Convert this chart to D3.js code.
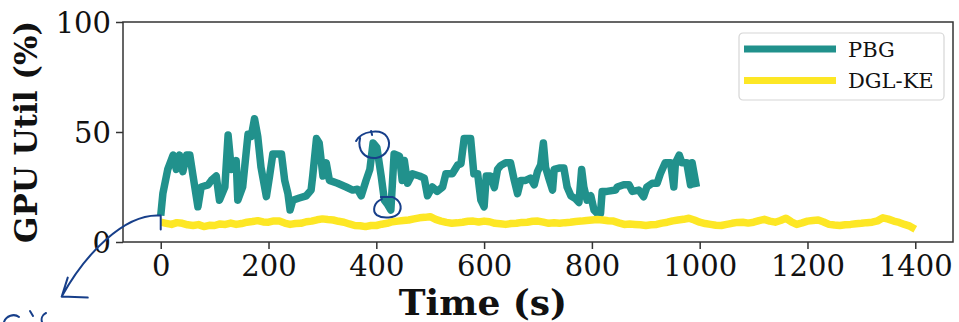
<!DOCTYPE html>
<html>
<head>
<meta charset="utf-8">
<script src="https://cdn.jsdelivr.net/npm/d3@7/dist/d3.min.js"></script>
<style>
  html, body { margin: 0; padding: 0; background: #fff; }
  svg { display: block; }
</style>
</head>
<body>
<div id="chart"></div>
<script>
// PBG GPU utilisation: [time (s), util (%)]
const pbgTime = [0, 4, 13, 23, 29, 35, 41, 48, 54, 60, 69, 75, 88, 94, 103, 109, 119, 125, 131, 140,
  143, 152, 162, 168, 174, 180, 186, 196, 202, 208, 224, 230, 236, 240, 245, 257, 270, 279, 282, 289,
  294, 301, 307, 313, 328, 344, 356, 365, 372, 381, 388, 394, 401, 409, 415, 421, 427, 433, 443, 448,
  452, 458, 467, 480, 489, 495, 504, 513, 523, 529, 541, 551, 557, 563, 575, 581, 588, 594, 600, 604,
  612, 619, 625, 631, 640, 649, 656, 662, 668, 677, 686, 693, 699, 705, 710, 714, 720, 727, 730, 739,
  748, 754, 761, 770, 776, 781, 785, 791, 798, 804, 810, 816, 819, 828, 844, 847, 859, 869, 875, 887,
  896, 902, 912, 921, 927, 936, 946, 952, 955, 962, 967, 976, 983, 986, 994];
const pbgUtil = [12, 22, 33, 39.5, 33, 39.5, 32, 39.5, 39.5, 30, 16, 25, 26, 28, 30, 19, 25, 48.6, 33, 37,
  19, 25, 49, 48, 56, 48, 34, 20.6, 30, 40, 40, 28, 22, 14.5, 19, 20, 21, 23.6, 30, 47,
  45, 30, 36, 28, 26.7, 25, 23.6, 24, 21, 28, 33, 45, 43, 30, 19, 17, 14.5, 40, 39, 28,
  37, 26.7, 31, 30, 29, 21, 25, 23, 25, 31, 31, 35, 35.6, 47, 47, 31, 31, 19, 16, 30,
  30, 24.7, 33, 34.8, 36, 36, 28, 22, 28, 28, 29, 26, 32, 35, 45, 34, 29, 23.6, 33, 33.6,
  33.6, 25, 21, 19.6, 18, 33, 25, 19, 21, 14.5, 13, 13, 23, 23, 23.6, 25, 26, 26, 23, 23.6,
  20.6, 25, 26.7, 26.7, 31, 36, 36, 25, 36, 39.5, 36, 36, 26, 36, 25];

// DGL-KE GPU utilisation
const dglTime = [0, 10, 20, 30, 40, 50, 60, 70, 80, 90, 100, 110, 120, 130, 140, 150, 160, 170, 180, 190,
  200, 210, 220, 230, 240, 250, 260, 270, 280, 290, 300, 310, 320, 330, 340, 350, 360, 370, 380, 390,
  400, 410, 420, 430, 440, 450, 460, 470, 480, 490, 500, 510, 520, 530, 540, 550, 560, 570, 580, 590,
  600, 610, 620, 630, 640, 650, 660, 670, 680, 690, 700, 710, 720, 730, 740, 750, 760, 770, 780, 790,
  800, 810, 820, 830, 840, 850, 860, 870, 880, 890, 900, 910, 920, 930, 940, 950, 960, 970, 980, 990,
  1000, 1010, 1020, 1030, 1040, 1050, 1060, 1070, 1080, 1090, 1100, 1110, 1120, 1130, 1140, 1150, 1160, 1170, 1180, 1190,
  1200, 1210, 1220, 1230, 1240, 1250, 1260, 1270, 1280, 1290, 1300, 1310, 1320, 1330, 1340, 1350, 1360, 1370, 1380, 1390, 1400];
const dglUtil = [9, 8.5, 8, 8.8, 8.5, 7.8, 7.5, 7.9, 7, 7.6, 7.5, 8.2, 8, 8.6, 8, 8.4, 9, 9.3, 9.7, 9.1,
  9, 9.6, 9.5, 8.6, 8, 8.4, 8.5, 9.2, 9.5, 10.1, 10.5, 10.2, 10, 9.4, 9, 8.2, 7.5, 7.4, 7, 7.5,
  7.5, 8.1, 8.5, 9.2, 9.5, 9.8, 10, 10.5, 11, 11.2, 11.5, 10.3, 9.5, 8.9, 8.5, 8.7, 9, 9.4, 9.5, 9.1,
  9.5, 9.2, 8.5, 8.3, 8, 8.4, 8.5, 8.9, 9, 9.4, 9.5, 9, 8.5, 8.7, 8.5, 8.8, 9, 9.3, 9.5, 9.8,
  10, 10.2, 10, 9.7, 9.5, 8.7, 8, 8.2, 8, 7.8, 7.5, 7.8, 8, 8.6, 9, 9.6, 10, 10.3, 10.8, 10,
  9, 8.4, 8, 7.6, 7.5, 8, 8.5, 8.9, 9, 8.6, 9, 9.7, 10.3, 9.5, 9, 9.8, 10.8, 9.2, 8, 8.7,
  9.5, 9.8, 10, 9.1, 8, 7.7, 7.5, 7.8, 8, 8.3, 8.5, 8.8, 9, 9.6, 11, 10.4, 9.5, 8.9, 8, 7.2, 5.8];

const xTicks = [0, 200, 400, 600, 800, 1000, 1200, 1400];
const yTicks = [0, 50, 100];
const seriesNames = ['PBG', 'DGL-KE'];
const seriesColors = ['#21918c', '#fde725'];

const width = 959, height = 322;
const margin = { top: 22, right: 6, bottom: 80, left: 123 };
const innerWidth = width - margin.left - margin.right;
const innerHeight = height - margin.top - margin.bottom;
const serif = "'DejaVu Serif', serif";

const svg = d3.select('#chart')
  .append('svg')
  .attr('width', width)
  .attr('height', height);

const g = svg.append('g')
  .attr('transform', `translate(${margin.left},${margin.top})`);

const x = d3.scaleLinear().domain([-70, 1470]).range([0, innerWidth]);
const y = d3.scaleLinear().domain([0, 100]).range([innerHeight, 0]);

g.append('clipPath').attr('id', 'clip')
  .append('rect').attr('width', innerWidth).attr('height', innerHeight);

// lines
const line = d3.line().x(d => x(d[0])).y(d => y(d[1]));
const series = [
  d3.zip(pbgTime, pbgUtil),
  d3.zip(dglTime, dglUtil)
];
series.forEach((pts, i) => {
  g.append('path')
    .datum(pts)
    .attr('clip-path', 'url(#clip)')
    .attr('fill', 'none')
    .attr('stroke', seriesColors[i])
    .attr('stroke-width', 7.5)
    .attr('stroke-linejoin', 'round')
    .attr('d', line);
});

// axes
const xAxis = g.append('g')
  .attr('transform', `translate(0,${innerHeight})`)
  .call(d3.axisBottom(x).tickValues(xTicks).tickFormat(d3.format('d')).tickSize(7).tickPadding(6));
const yAxis = g.append('g')
  .call(d3.axisLeft(y).tickValues(yTicks).tickFormat(d3.format('d')).tickSize(7).tickPadding(5));

[xAxis, yAxis].forEach(a => {
  a.select('.domain').remove();
  a.selectAll('line').attr('stroke', '#333').attr('stroke-width', 1.5);
  a.selectAll('text')
    .attr('fill', '#111')
    .style('font-family', serif)
    .style('font-size', '29px');
});
yAxis.selectAll('text').attr('dy', '0.36em');

// frame
g.append('rect')
  .attr('width', innerWidth)
  .attr('height', innerHeight)
  .attr('fill', 'none')
  .attr('stroke', '#333')
  .attr('stroke-width', 1.5);

// axis labels
svg.append('text')
  .attr('x', 483)
  .attr('y', 315)
  .attr('text-anchor', 'middle')
  .style('font-family', serif)
  .style('font-weight', 'bold')
  .style('font-size', '36px')
  .attr('fill', '#111')
  .text('Time (s)');

svg.append('text')
  .attr('transform', `translate(37,${margin.top + innerHeight / 2}) rotate(-90)`)
  .attr('text-anchor', 'middle')
  .style('font-family', serif)
  .style('font-weight', 'bold')
  .style('font-size', '31px')
  .attr('fill', '#111')
  .text('GPU Util (%)');

// legend
const legend = svg.append('g').attr('transform', 'translate(739,33)');
legend.append('rect')
  .attr('width', 205).attr('height', 67).attr('rx', 4)
  .attr('fill', '#fff').attr('stroke', '#d6d6d6').attr('stroke-width', 1.2);
seriesNames.forEach((name, i) => {
  const ly = 16 + i * 31.5;
  legend.append('line')
    .attr('x1', 5).attr('x2', 97).attr('y1', ly).attr('y2', ly)
    .attr('stroke', seriesColors[i]).attr('stroke-width', 7);
  legend.append('text')
    .attr('x', 109).attr('y', ly).attr('dy', '0.36em')
    .style('font-family', serif).style('font-size', '21px')
    .attr('fill', '#111')
    .text(name);
});

// hand-drawn ink marks, placed relative to the points they mark
const ink = svg.append('g')
  .attr('fill', 'none')
  .attr('stroke', '#173f8a')
  .attr('stroke-width', 2)
  .attr('stroke-linecap', 'round')
  .attr('stroke-linejoin', 'round');

const at = (t, v) => [margin.left + x(t), margin.top + y(v)];

// loop round the peak near 394 s
const [ax, ay] = at(394, 45);
ink.append('path')
  .attr('transform', `translate(${ax},${ay})`)
  .attr('d', 'M-17,-2 C-12,-12 8,-15 14,-6 C19,2 14,13 3,15 C-8,16 -16,8 -13,-5 M-2,-12 l1,4');

// small loop round the dip near 427 s
const [bx, by] = at(427, 14.5);
ink.append('path')
  .attr('transform', `translate(${bx},${by})`)
  .attr('d', 'M-10,-13 L2,-13 C9,-10 12,-3 8,3 C4,8 -8,9 -14,5 C-19,1 -17,-8 -9,-11');

// arrow from the start of the run
const [cx, cy] = at(0, 12);
ink.append('path')
  .attr('transform', `translate(${cx},${cy})`)
  .attr('d', 'M0,14 L0,0 C-36,-3 -76,39 -99,81 M-99,81 L-93,62 M-99,81 L-73,82');

// scribble cut off at the bottom-left corner
ink.append('path')
  .attr('d', 'M4,322 C6,316 14,313 19,317 M30,311 L33,316 M46,313 C42,315 41,319 42,322');
</script>
</body>
</html>
